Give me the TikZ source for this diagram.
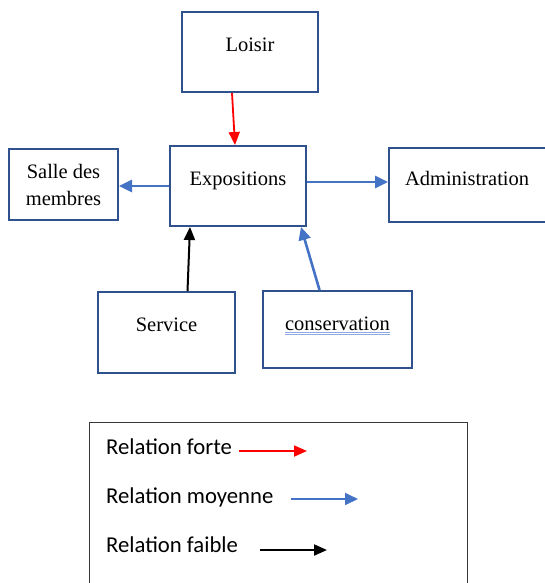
\documentclass[tikz,border=0pt]{standalone}
\usepackage{fontspec}
\setmainfont{Liberation Serif}
\newfontfamily\legendefont{Carlito}
\usepackage{xcolor}
\usepackage{tikz}
\usetikzlibrary{arrows.meta, positioning}
\definecolor{cadreblue}{RGB}{47, 82, 143}
\definecolor{flecheblue}{RGB}{68, 114, 196}
\definecolor{soulblue}{RGB}{140, 170, 225}
\definecolor{legendgray}{RGB}{55, 55, 55}

\newcommand{\doublesouligne}[1]{\setbox0=\hbox{#1}%
  \rlap{\color{soulblue}\rule[-2.4pt]{\wd0}{0.7pt}}%
  \rlap{\color{soulblue}\rule[-4.8pt]{\wd0}{0.7pt}}\box0}

\begin{document}
\begin{tikzpicture}[
    x=1pt, y=-1pt,
    font=\fontsize{20.5}{27}\selectfont,
    boite/.style={rectangle, draw=cadreblue, line width=2pt, inner sep=0pt, align=center},
    forte/.style={-{Triangle[length=13pt, width=11pt]}, line width=1.8pt, red},
    moyenne/.style={-{Triangle[length=13pt, width=12pt]}, line width=2.6pt, flecheblue},
    faible/.style={-{Triangle[length=13pt, width=11pt]}, line width=2pt, black},
    legendtext/.style={anchor=base west, inner sep=0pt, font=\legendefont\fontsize{22.7}{27}\selectfont}
]
\clip (0,0) rectangle (545,583);
\useasboundingbox (0,0) rectangle (545,583);

% boites
\node[boite, minimum width=136pt, text height=40pt, text depth=40pt] (loisir) at (250,52) {Loisir};
\node[boite, minimum width=136pt, text height=39pt, text depth=41pt] (expo) at (238,186) {Expositions};
\node[boite, minimum width=109pt, minimum height=71pt] (salle) at (63.5,184.5) {Salle des\\membres};
\node[boite, text width=138pt, inner xsep=16pt, align=left, text height=37pt, text depth=37pt] (admin) at (474,185) {Administration};
\node[boite, minimum width=137pt, text height=39pt, text depth=42pt] (service) at (166.5,332.5) {Service};
\node[boite, minimum width=149pt, text height=39pt, text depth=38pt] (cons) at (337.5,329.5) {\doublesouligne{conservation}};

% relations
\draw[forte] ([xshift=-18pt]loisir.south) -- ([xshift=-3pt]expo.north);
\draw[moyenne] (expo.west) -- (expo.west -| salle.east);
\draw[moyenne] ([yshift=4pt]expo.east) -- ([yshift=4pt]expo.east -| admin.west);
\draw[faible] ([xshift=21pt]service.north) -- ([xshift=-48pt]expo.south);
\draw[moyenne] ([xshift=-18pt]cons.north) -- ([xshift=63pt]expo.south);

% legende
\node[draw=legendgray, line width=1.3pt, minimum width=378pt, minimum height=180pt, anchor=north west, inner sep=0pt] (legende) at (89,422) {};
\node[legendtext] (lforte) at (106,454) {Relation forte};
\node[legendtext] (lmoyenne) at (106,503) {Relation moyenne};
\node[legendtext] (lfaible) at (106,552) {Relation faible};
\coordinate (forte-fin) at (307,451);
\coordinate (moyenne-fin) at (358,499);
\coordinate (faible-fin) at (327,550);
\draw[forte] ([xshift=7pt, yshift=3pt]lforte.base east) -- (forte-fin);
\draw[moyenne, line width=1.8pt] ([xshift=17pt, yshift=4pt]lmoyenne.base east) -- (moyenne-fin);
\draw[faible] ([xshift=22pt, yshift=2pt]lfaible.base east) -- (faible-fin);
\end{tikzpicture}
\end{document}
